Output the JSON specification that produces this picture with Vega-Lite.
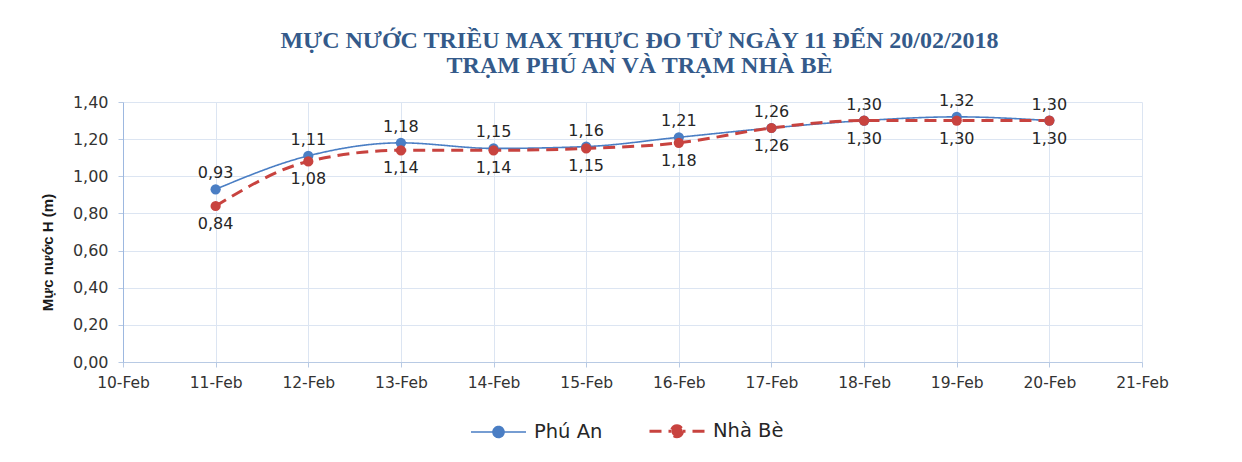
{
  "$schema": "https://vega.github.io/schema/vega-lite/v6.json",
  "autosize": {"type": "none"},
  "width": 1019,
  "height": 260,
  "padding": {"left": 123, "top": 102, "right": 100, "bottom": 100},
  "background": "white",
  "title": {
    "text": ["MỰC NƯỚC TRIỀU MAX THỰC ĐO TỪ NGÀY 11 ĐẾN 20/02/2018", "TRẠM PHÚ AN VÀ TRẠM NHÀ BÈ"],
    "font": "Liberation Serif",
    "fontSize": 24,
    "fontWeight": "bold",
    "color": "#345A8A",
    "anchor": "middle",
    "frame": "group",
    "lineHeight": 25,
    "offset": 15,
    "dx": 7
  },
  "data": {
    "values": [
      {"date": "11-Feb", "series": "Phú An", "h": 0.93},
      {"date": "12-Feb", "series": "Phú An", "h": 1.11},
      {"date": "13-Feb", "series": "Phú An", "h": 1.18},
      {"date": "14-Feb", "series": "Phú An", "h": 1.15},
      {"date": "15-Feb", "series": "Phú An", "h": 1.16},
      {"date": "16-Feb", "series": "Phú An", "h": 1.21},
      {"date": "17-Feb", "series": "Phú An", "h": 1.26},
      {"date": "18-Feb", "series": "Phú An", "h": 1.30},
      {"date": "19-Feb", "series": "Phú An", "h": 1.32},
      {"date": "20-Feb", "series": "Phú An", "h": 1.30},
      {"date": "11-Feb", "series": "Nhà Bè", "h": 0.84},
      {"date": "12-Feb", "series": "Nhà Bè", "h": 1.08},
      {"date": "13-Feb", "series": "Nhà Bè", "h": 1.14},
      {"date": "14-Feb", "series": "Nhà Bè", "h": 1.14},
      {"date": "15-Feb", "series": "Nhà Bè", "h": 1.15},
      {"date": "16-Feb", "series": "Nhà Bè", "h": 1.18},
      {"date": "17-Feb", "series": "Nhà Bè", "h": 1.26},
      {"date": "18-Feb", "series": "Nhà Bè", "h": 1.30},
      {"date": "19-Feb", "series": "Nhà Bè", "h": 1.30},
      {"date": "20-Feb", "series": "Nhà Bè", "h": 1.30}
    ]
  },
  "encoding": {
    "x": {
      "field": "date",
      "type": "nominal",
      "sort": null,
      "scale": {"type": "point", "padding": 0, "domain": ["10-Feb", "11-Feb", "12-Feb", "13-Feb", "14-Feb", "15-Feb", "16-Feb", "17-Feb", "18-Feb", "19-Feb", "20-Feb", "21-Feb"]},
      "axis": {
        "title": null,
        "labelAngle": 0,
        "labelFont": "DejaVu Sans",
        "labelFontSize": 15.5,
        "labelColor": "#333333",
        "labelPadding": 8,
        "grid": true,
        "gridColor": "#DCE5F2",
        "domainColor": "#B8CAE4",
        "tickColor": "#B8CAE4",
        "tickSize": 5
      }
    },
    "y": {
      "field": "h",
      "type": "quantitative",
      "scale": {"domain": [0, 1.4], "nice": false, "zero": true},
      "axis": {
        "title": "Mực nước H (m)",
        "titleFont": "Liberation Sans",
        "titleFontSize": 15,
        "titleFontWeight": "bold",
        "titleColor": "#1a1a1a",
        "titlePadding": 17,
        "titleY": 150,
        "values": [0, 0.2, 0.4, 0.6, 0.8, 1.0, 1.2, 1.4],
        "format": ".2f",
        "labelFont": "DejaVu Sans",
        "labelFontSize": 16,
        "labelColor": "#333333",
        "labelPadding": 10,
        "grid": true,
        "gridColor": "#DCE5F2",
        "domainColor": "#9DB8E0",
        "tickColor": "#B8CAE4",
        "tickSize": 5
      }
    }
  },
  "layer": [
    {
      "mark": {"type": "line", "interpolate": "monotone"},
      "encoding": {
        "color": {
          "field": "series",
          "type": "nominal",
          "scale": {"domain": ["Phú An", "Nhà Bè"], "range": ["#4A7EC4", "#C8433F"]},
          "legend": {
            "title": null,
            "orient": "none",
            "legendX": 347,
            "legendY": 300,
            "direction": "horizontal",
            "labelFont": "DejaVu Sans",
            "labelFontSize": 19.5,
            "labelColor": "#262626",
            "labelOffset": 7,
            "columnPadding": 40,
            "symbolType": "M-1,0L-0.2,0M1,0L0.2,0M0.2,0A0.2,0.2,0,1,1,-0.2,0A0.2,0.2,0,1,1,0.2,0Z",
            "symbolSize": 3025,
            "encode": {"symbols": {"update": {"fill": {"scale": "color", "field": "value"}}}}
          }
        },
        "strokeDash": {
          "field": "series",
          "type": "nominal",
          "scale": {"domain": ["Phú An", "Nhà Bè"], "range": [[1, 0], [12, 7]]}
        },
        "strokeWidth": {
          "field": "series",
          "type": "nominal",
          "scale": {"domain": ["Phú An", "Nhà Bè"], "range": [1.6, 3]}
        }
      }
    },
    {
      "mark": {"type": "circle", "size": 105, "opacity": 1},
      "encoding": {
        "color": {"field": "series", "type": "nominal"}
      }
    },
    {
      "transform": [{"filter": "datum.series === 'Phú An'"}],
      "mark": {"type": "text", "dy": -16, "font": "DejaVu Sans", "fontSize": 16, "color": "#262626"},
      "encoding": {"text": {"field": "h", "type": "quantitative", "format": ".2f"}}
    },
    {
      "transform": [{"filter": "datum.series === 'Nhà Bè'"}],
      "mark": {"type": "text", "dy": 18, "font": "DejaVu Sans", "fontSize": 16, "color": "#262626"},
      "encoding": {"text": {"field": "h", "type": "quantitative", "format": ".2f"}}
    }
  ],
  "config": {
    "view": {"stroke": null},
    "locale": {"number": {"decimal": ",", "thousands": ".", "grouping": [3], "currency": ["", ""]}}
  }
}
